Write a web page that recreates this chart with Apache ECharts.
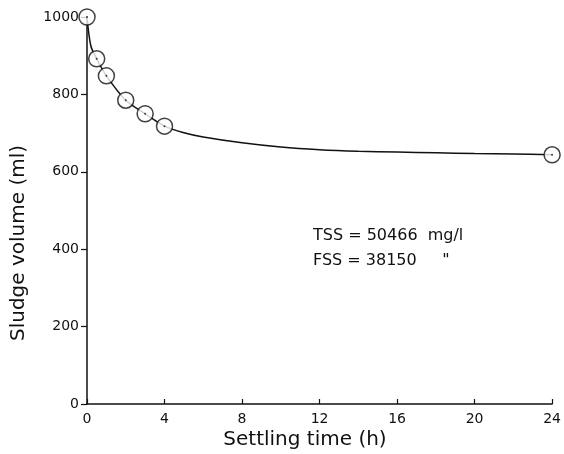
<!DOCTYPE html>
<html><head><meta charset="utf-8">
<script src="https://cdn.jsdelivr.net/npm/echarts@6/dist/echarts.min.js"></script>
<style>html,body{margin:0;padding:0;background:#fff}#c{width:564px;height:454px}</style>
</head><body><div id="c"></div>
<script>
const timeH = [0, 0.5, 1, 2, 3, 4, 24];
const volumeMl = [1000, 892, 848, 785, 750, 718, 644];
const curveX = [0, 0.2, 0.5, 1, 2, 3, 4, 5, 6, 8, 10, 12, 14, 16, 18, 20, 22, 24];
const curveY = [1000, 925, 892, 848, 785, 750, 718, 701, 690, 675, 664, 657, 653, 651, 649, 647, 646, 644];
const xTicks = [0, 4, 8, 12, 16, 20, 24];
const yTicks = [0, 200, 400, 600, 800, 1000];
const xTitle = 'Settling time (h)';
const yTitle = 'Sludge volume (ml)';
const notes = ['TSS = 50466  mg/l', 'FSS = 38150     "'];

const font = 'DejaVu Sans';
const chart = echarts.init(document.getElementById('c'));
chart.setOption({
  backgroundColor: '#fff',
  animation: false,
  grid: {left: 87, top: 17, right: 9, bottom: 50},
  xAxis: {
    type: 'value', min: xTicks[0], max: xTicks[xTicks.length - 1], interval: 4,
    axisLine: {lineStyle: {color: '#111', width: 1.5}},
    axisTick: {inside: true, length: 5, lineStyle: {color: '#111', width: 1.2}},
    axisLabel: {fontFamily: font, fontSize: 14, color: '#111', margin: 8},
    splitLine: {show: false}
  },
  yAxis: {
    type: 'value', min: yTicks[0], max: yTicks[yTicks.length - 1], interval: 200,
    axisLine: {show: true, lineStyle: {color: '#111', width: 1.5}},
    axisTick: {show: true, length: 6, lineStyle: {color: '#111', width: 1.2}},
    axisLabel: {fontFamily: font, fontSize: 14, color: '#111', margin: 8, formatter: v => String(v)},
    splitLine: {show: false}
  },
  series: [
    {
      type: 'line', smooth: 0.3, symbol: 'none',
      data: curveX.map((x, i) => [x, curveY[i]]),
      lineStyle: {color: '#111', width: 1.5}, z: 2
    },
    {
      type: 'scatter', symbol: 'circle', symbolSize: 16,
      data: timeH.map((x, i) => [x, volumeMl[i]]),
      itemStyle: {color: '#fff', borderColor: '#111', borderWidth: 1.5}, z: 3
    },
    {
      type: 'scatter', symbol: 'circle', symbolSize: 2,
      data: timeH.map((x, i) => [x, volumeMl[i]]),
      itemStyle: {color: '#111'}, z: 4
    }
  ],
  graphic: notes.map((t, i) => ({
    type: 'text', left: 313, top: 228 + i * 25,
    style: {text: t, font: '16px "' + font + '"', fill: '#111'}
  })).concat([
    {type: 'text', x: 305, y: 440,
     style: {text: xTitle, font: '20px "' + font + '"', fill: '#111', align: 'center', verticalAlign: 'middle'}},
    {type: 'text', x: 19, y: 243, rotation: Math.PI / 2,
     style: {text: yTitle, font: '20px "' + font + '"', fill: '#111', align: 'center', verticalAlign: 'middle'}}
  ])
});
</script></body></html>
